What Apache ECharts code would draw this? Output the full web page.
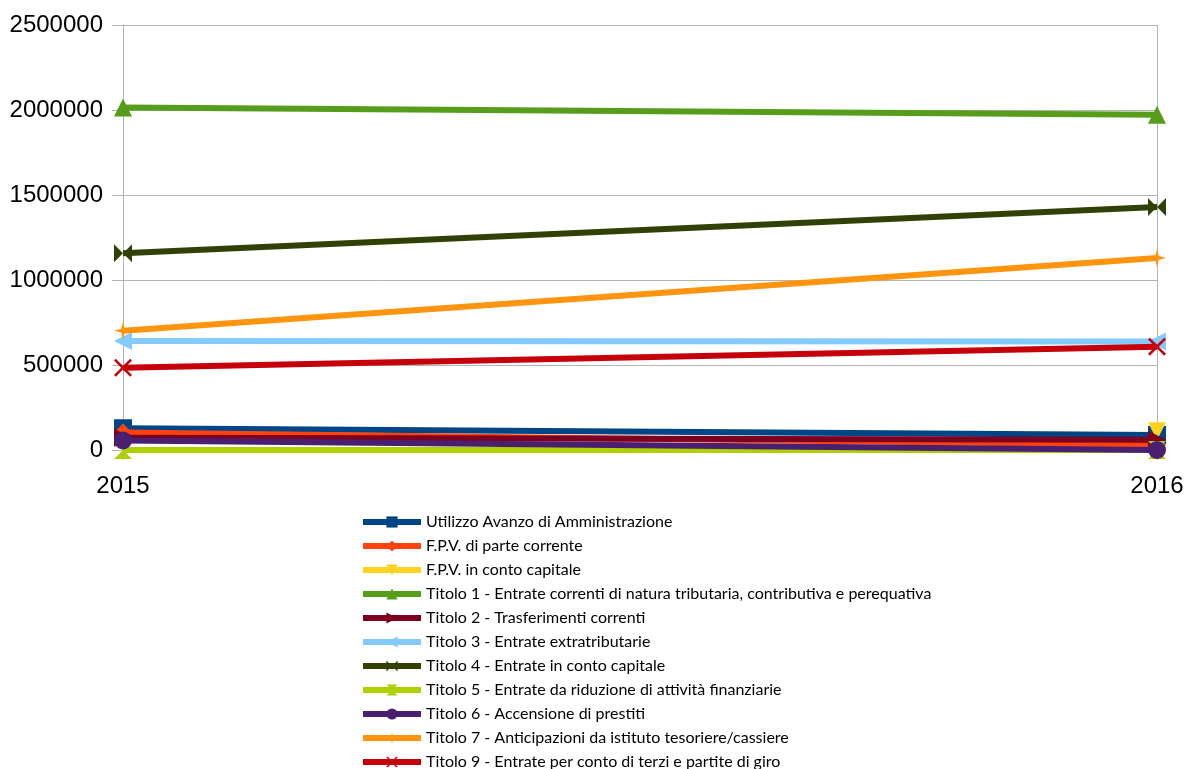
<!DOCTYPE html>
<html>
<head>
<meta charset="utf-8">
<script src="https://cdn.jsdelivr.net/npm/echarts@6/dist/echarts.min.js"></script>
<style>html,body{margin:0;padding:0;background:#fff}#c{width:1184px;height:769px}</style>
</head>
<body>
<div id="c"></div>
<script>
const categories = ['2015', '2016'];
const yTicks = [0, 500000, 1000000, 1500000, 2000000, 2500000];
const seriesNames = [
  'Utilizzo Avanzo di Amministrazione',
  'F.P.V. di parte corrente',
  'F.P.V. in conto capitale',
  'Titolo 1 - Entrate correnti di natura tributaria, contributiva e perequativa',
  'Titolo 2 - Trasferimenti correnti',
  'Titolo 3 - Entrate extratributarie',
  'Titolo 4 - Entrate in conto capitale',
  'Titolo 5 - Entrate da riduzione di attività finanziarie',
  'Titolo 6 - Accensione di prestiti',
  'Titolo 7 - Anticipazioni da istituto tesoriere/cassiere',
  'Titolo 9 - Entrate per conto di terzi e partite di giro'
];
const utilizzoAvanzo = [128000, 88000];
const fpvCorrente = [103000, 29000];
const fpvCapitale = [null, 110000];
const titolo1 = [2015000, 1972000];
const titolo2 = [72000, 60000];
const titolo3 = [641000, 638000];
const titolo4 = [1157000, 1430000];
const titolo5 = [0, 0];
const titolo6 = [56000, 0];
const titolo7 = [702000, 1130000];
const titolo9 = [484000, 608000];

const values = [utilizzoAvanzo, fpvCorrente, fpvCapitale, titolo1, titolo2, titolo3, titolo4, titolo5, titolo6, titolo7, titolo9];
const colors = ['#004586', '#ff420e', '#ffd320', '#579d1c', '#7e0021', '#83caff', '#314004', '#aecf00', '#4b1f6f', '#ff950e', '#c5000b'];
const symbols = [
  'rect',
  'diamond',
  'path://M0,0L10,0L5,10Z',
  'path://M5,0L10,10L0,10Z',
  'path://M0,0L10,5L0,10Z',
  'path://M10,0L0,5L10,10Z',
  'path://M0,0L5,5L0,10ZM10,0L5,5L10,10Z',
  'path://M0,0L10,0L5,5ZM0,10L10,10L5,5Z',
  'circle',
  'path://M5,0L6,4L10,5L6,6L5,10L4,6L0,5L4,4Z',
  'path://M0,1L1,0L5,4L9,0L10,1L6,5L10,9L9,10L5,6L1,10L0,9L4,5Z'
];

const chart = echarts.init(document.getElementById('c'), null, {renderer: 'canvas'});
chart.setOption({
  animation: false,
  backgroundColor: '#fff',
  grid: {left: 123, right: 27, top: 25, bottom: 319, containLabel: false, outerBoundsMode: 'none'},
  xAxis: {
    type: 'category',
    data: categories,
    boundaryGap: false,
    axisLine: {show: true, lineStyle: {color: '#b3b3b3', width: 1}},
    axisTick: {show: true, length: 10, inside: false, lineStyle: {color: '#b3b3b3'}},
    splitLine: {show: true, lineStyle: {color: '#b3b3b3', width: 1}},
    axisLabel: {color: '#000', fontSize: 24, fontFamily: 'Liberation Sans', margin: 24}
  },
  yAxis: {
    type: 'value',
    min: yTicks[0],
    max: yTicks[yTicks.length - 1],
    interval: yTicks[1] - yTicks[0],
    axisLine: {show: true, lineStyle: {color: '#b3b3b3', width: 1}},
    axisTick: {show: true, length: 11, lineStyle: {color: '#b3b3b3'}},
    splitLine: {show: true, lineStyle: {color: '#b3b3b3', width: 1}},
    axisLabel: {color: '#000', fontSize: 24, fontFamily: 'Liberation Sans', margin: 20, formatter: v => String(v)}
  },
  legend: {
    orient: 'vertical',
    left: 360,
    top: 514,
    height: 400,
    padding: 0,
    itemWidth: 58,
    itemHeight: 14,
    itemGap: 8,
    lineStyle: {width: 6},
    textStyle: {color: '#000', fontSize: 16, fontFamily: 'Lato'},
    data: seriesNames
  },
  series: seriesNames.map((name, i) => ({
    name: name,
    type: 'line',
    data: values[i],
    color: colors[i],
    symbol: symbols[i],
    symbolSize: 18,
    showAllSymbol: true,
    lineStyle: {width: 6, color: colors[i]},
    itemStyle: {color: colors[i]},
    z: 2 + i
  }))
});
</script>
</body>
</html>
